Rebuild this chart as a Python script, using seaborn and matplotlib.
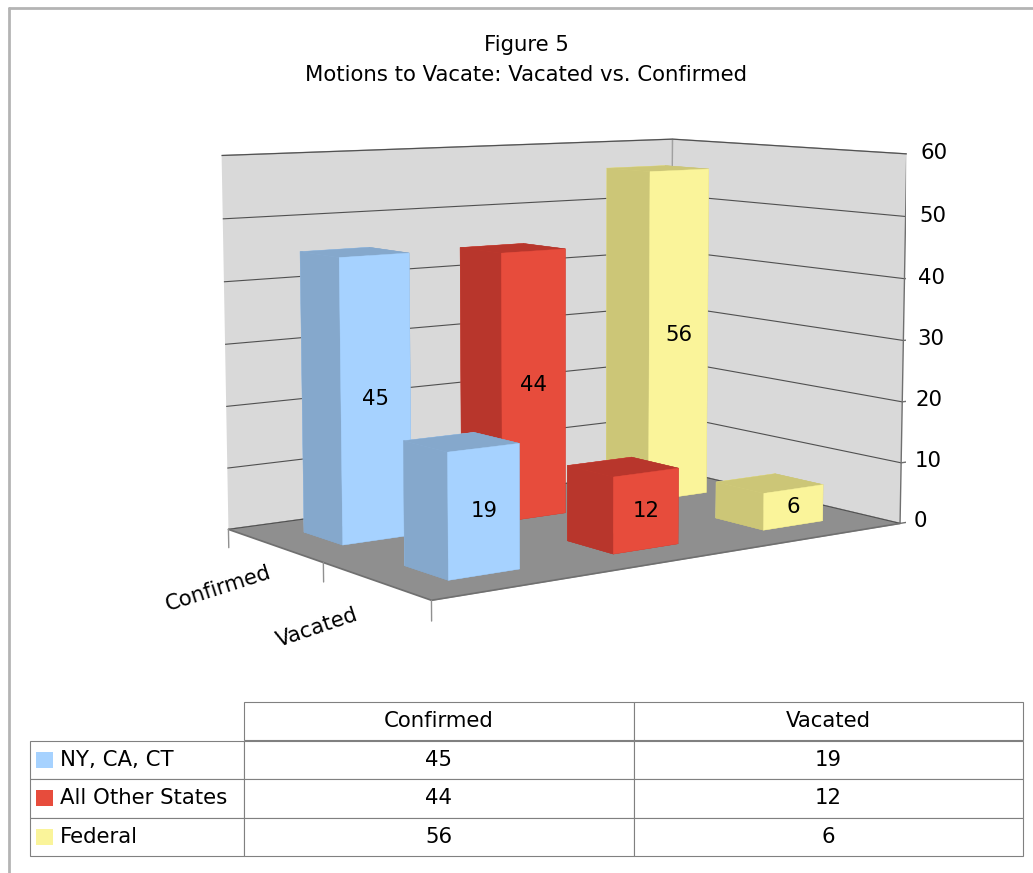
import numpy as np
import matplotlib
matplotlib.use("Agg")
import matplotlib.pyplot as plt
import seaborn as sns
from matplotlib.patches import Rectangle
from matplotlib.lines import Line2D
from matplotlib.table import Table

# Data
groups = ["NY, CA, CT", "All Other States", "Federal"]
outcomes = ["Confirmed", "Vacated"]
confirmed = [45, 44, 56]
vacated = [19, 12, 6]
z_ticks = [0, 10, 20, 30, 40, 50, 60]

front_colors = ["#A6D2FF", "#E74C3C", "#FAF49A"]
side_colors = ["#85A8CC", "#B8362C", "#CCC677"]

sns.set_theme(style="white")
plt.rcParams["font.family"] = ["DejaVu Sans"]
plt.rcParams["text.color"] = "black"
FS = 15.3

fig = plt.figure(figsize=(10.33, 8.73), dpi=100)
fig.patch.set_facecolor("white")

# ---- 3D bar chart ----
ax = fig.add_axes([0.019, 0.197, 1.04, 0.80], projection="3d")
ax.set_proj_type("persp", focal_length=0.65)
ax.view_init(elev=7.5, azim=-126)
ax.set_box_aspect((1.51, 1.0, 1.0), zoom=1.078)

dx, dy = 0.42, 0.40
xs, ys, hs, face_cols = [], [], [], []
rows = [(1, confirmed), (0, vacated)]
for row_y, values in rows:
    for i, v in enumerate(values):
        xs.append(i - dx / 2)
        ys.append(row_y - dy / 2)
        hs.append(v)
        s, f = side_colors[i], front_colors[i]
        face_cols += [s, s, f, f, s, s]
ax.bar3d(xs, ys, np.zeros(len(xs)), dx, dy, hs, color=face_cols,
         shade=False, edgecolor=face_cols, linewidth=0.3)

for row_y, values in rows:
    for i, v in enumerate(values):
        ax.text(i, row_y - dy / 2, v / 2, str(v), ha="center", va="center",
                fontsize=FS, color="black", zorder=100)

x0, x1 = -0.5, 2.5
y0, y1 = -0.5, 1.5
ax.set_xlim(x0, x1)
ax.set_ylim(y0, y1)
ax.set_zlim(0, 60)
ax.set_xticks([])
ax.set_yticks([])
ax.set_zticks(z_ticks)
ax.set_zticklabels([])
ax.zaxis._axinfo["tick"]["inward_factor"] = 0
ax.zaxis._axinfo["tick"]["outward_factor"] = 0
ax.zaxis.line.set_color((0, 0, 0, 0))

ax.xaxis.set_pane_color("#D9D9D9")
ax.yaxis.set_pane_color("#D9D9D9")
ax.zaxis.set_pane_color("#8F8F8F")
for a in (ax.xaxis, ax.yaxis, ax.zaxis):
    a.pane.set_edgecolor("#A0A0A0")
ax.xaxis.line.set_color("#707070")
ax.yaxis.line.set_color("#707070")
ax.zaxis._axinfo["grid"]["color"] = "#505050"
ax.zaxis._axinfo["grid"]["linewidth"] = 0.8
ax.patch.set_alpha(0)

# value axis on the front-right edge
ax.plot([x1, x1], [y0, y0], [0, 60], color="#707070", lw=1)
for z in z_ticks:
    ax.plot([x1, x1 + 0.06], [y0, y0], [z, z], color="#707070", lw=1)
    ax.text(x1 + 0.10, y0, z, str(z), ha="left", va="center", fontsize=FS,
            color="black", zorder=100)

# category ticks and labels along the depth edge
for yb in (y0, 0.5, y1):
    ax.plot([x0, x0], [yb, yb], [0, -3], color="#909090", lw=1)
for row_y, name in zip([1, 0], outcomes):
    ax.text(x0 - 0.33, row_y, -5.5, name, zdir=(1, 0, 4.6), ha="center",
            va="center", fontsize=FS, color="black", zorder=100)

# ---- titles ----
fig.text(526 / 1033, 1 - 45 / 873, "Figure 5", ha="center", va="center", fontsize=FS)
fig.text(526 / 1033, 1 - 75 / 873, "Motions to Vacate: Vacated vs. Confirmed",
         ha="center", va="center", fontsize=FS)

# ---- outer frame ----
fig.add_artist(Line2D([9 / 1033, 9 / 1033], [0, 1 - 8 / 873], color="#B4B4B4", lw=2))
fig.add_artist(Line2D([9 / 1033, 1], [1 - 8 / 873, 1 - 8 / 873], color="#B4B4B4", lw=2))

# ---- data table ----
tax = fig.add_axes([30 / 1033, 1 - 856 / 873, (1023 - 30) / 1033, (856 - 702) / 873])
tax.axis("off")
tbl = Table(tax, bbox=[0, 0, 1, 1])
label_w, data_w = 214 / 993, 389.5 / 993
nrows = len(groups) + 1
row_h = 1 / nrows
for j, name in enumerate(outcomes):
    tbl.add_cell(0, j + 1, data_w, row_h, text=name, loc="center")
hdr_blank = tbl.add_cell(0, 0, label_w, row_h, text="", loc="left")
hdr_blank.visible_edges = ""
for i, g in enumerate(groups):
    lab = tbl.add_cell(i + 1, 0, label_w, row_h, text=g, loc="left")
    lab.PAD = 0.14
    tbl.add_cell(i + 1, 1, data_w, row_h, text=str(confirmed[i]), loc="center")
    tbl.add_cell(i + 1, 2, data_w, row_h, text=str(vacated[i]), loc="center")
tbl.auto_set_font_size(False)
tbl.set_fontsize(FS)
for cell in tbl.get_celld().values():
    cell.set_edgecolor("#808080")
    cell.set_linewidth(0.8)
    cell.get_text().set_color("black")
tax.add_table(tbl)

for i, col in enumerate(front_colors):
    yc = 1 - (i + 1.5) * row_h
    tax.add_patch(Rectangle((6 / 993, yc - 8 / 154), 17 / 993, 16 / 154,
                            transform=tax.transAxes, facecolor=col,
                            edgecolor="none", zorder=10))

fig.savefig("out.png", dpi=100)
